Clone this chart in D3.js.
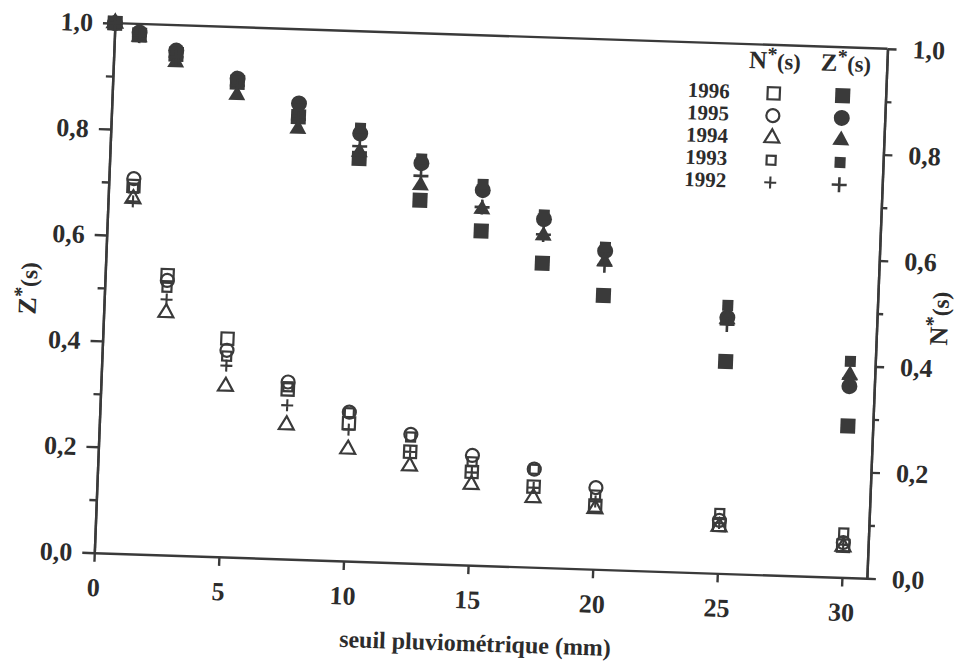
<!DOCTYPE html>
<html>
<head>
<meta charset="utf-8">
<script src="https://cdn.jsdelivr.net/npm/d3@7"></script>
<style>
  html, body { margin: 0; padding: 0; background: #fff; }
  svg { display: block; }
</style>
</head>
<body>
<svg id="chart" width="969" height="661"></svg>
<script>
// Rain threshold s (mm)
const thresholds = [0, 1, 2.5, 5, 7.5, 10, 12.5, 15, 17.5, 20, 25, 30];
const years = ["1996", "1995", "1994", "1993", "1992"];

// N*(s): share of rainy days above the threshold
const n1996 = [1.0, 0.694, 0.528, 0.412, 0.320, 0.260, 0.210, 0.176, 0.152, 0.120, 0.091, 0.060];
const n1995 = [1.0, 0.708, 0.518, 0.390, 0.334, 0.281, 0.243, 0.207, 0.185, 0.154, 0.100, 0.066];
const n1994 = [1.0, 0.670, 0.457, 0.322, 0.253, 0.211, 0.183, 0.152, 0.131, 0.114, 0.088, 0.058];
const n1993 = [1.0, 0.690, 0.505, 0.379, 0.325, 0.280, 0.238, 0.195, 0.185, 0.140, 0.113, 0.084];
const n1992 = [1.0, 0.665, 0.482, 0.361, 0.290, 0.248, 0.210, 0.175, 0.150, 0.128, 0.095, 0.062];

// Z*(s): share of rainfall total above the threshold
const z1996 = [1.0, 0.979, 0.945, 0.896, 0.835, 0.760, 0.685, 0.631, 0.574, 0.517, 0.400, 0.286];
const z1995 = [1.0, 0.984, 0.952, 0.903, 0.860, 0.807, 0.755, 0.708, 0.657, 0.601, 0.483, 0.361];
const z1994 = [1.0, 0.975, 0.930, 0.872, 0.812, 0.772, 0.713, 0.672, 0.626, 0.581, 0.480, 0.382];
const z1993 = [1.0, 0.982, 0.950, 0.898, 0.850, 0.817, 0.763, 0.719, 0.665, 0.608, 0.506, 0.408];
const z1992 = [1.0, 0.978, 0.940, 0.890, 0.830, 0.783, 0.731, 0.676, 0.628, 0.574, 0.470, 0.375];

const xTicks = [0, 5, 10, 15, 20, 25, 30];
const yMajor = [0, 0.2, 0.4, 0.6, 0.8, 1.0];
const yMinor = [0.1, 0.3, 0.5, 0.7, 0.9];

const shapes = ["square", "circle", "triangle", "smallsquare", "plus"];
const nSeries = [n1996, n1995, n1994, n1993, n1992];
const zSeries = [z1996, z1995, z1994, z1993, z1992];

const INK = "#3a3a3a";
const TEXT = "#2c2c2c";
const FONT = "'Liberation Serif', 'Times New Roman', serif";

const W = 773, H = 530;
// slightly tilted sheet: affine frame of the plot
const a = 0.99945, b = 0.0331, c = -0.039, d = 0.9992;
const e = 94.3 - c * H, f = 552.7 - d * H;

const svg = d3.select("#chart");
svg.append("rect").attr("width", 969).attr("height", 661).attr("fill", "#fff");

const g = svg.append("g")
  .attr("transform", `matrix(${a},${b},${c},${d},${e},${f})`)
  .style("font-family", FONT)
  .style("font-weight", "bold");

const x = d3.scaleLinear().domain([0, 31]).range([0, W]);
const y = d3.scaleLinear().domain([0, 1]).range([H, 0]);
const fmt = v => d3.format(".1f")(v).replace(".", ",");

function styleAxis(sel, size) {
  sel.selectAll("path, line").attr("stroke", INK).attr("stroke-width", 2.4);
  sel.selectAll("text").attr("fill", TEXT).style("font-size", size + "px")
    .style("font-family", FONT).style("font-weight", "bold");
}

// bottom axis
g.append("g").attr("transform", `translate(0,${H})`)
  .call(d3.axisBottom(x).tickValues(xTicks).tickSize(9).tickPadding(16).tickSizeOuter(0))
  .call(s => styleAxis(s, 26));

// left axis, Z*(s)
g.append("g")
  .call(d3.axisLeft(y).tickValues(yMajor).tickFormat(fmt).tickSize(12).tickPadding(10).tickSizeOuter(0))
  .call(s => styleAxis(s, 26));
g.append("g")
  .call(d3.axisLeft(y).tickValues(yMinor).tickFormat("").tickSize(7).tickSizeOuter(0))
  .call(s => styleAxis(s, 26));

// right axis, N*(s)
g.append("g").attr("transform", `translate(${W},0)`)
  .call(d3.axisRight(y).tickValues(yMajor).tickFormat(fmt).tickSize(9).tickPadding(16).tickSizeOuter(0))
  .call(s => styleAxis(s, 26));
g.append("g").attr("transform", `translate(${W},0)`)
  .call(d3.axisRight(y).tickValues(yMinor).tickFormat("").tickSize(6).tickSizeOuter(0))
  .call(s => styleAxis(s, 26));

// top frame
g.append("line").attr("x1", 0).attr("y1", 0).attr("x2", W).attr("y2", 0)
  .attr("stroke", INK).attr("stroke-width", 2.4);

// marker paths
function markerPath(kind, filled) {
  if (kind === "square") return d3.symbol(d3.symbolSquare, filled ? 225 : 150)();
  if (kind === "circle") return d3.symbol(d3.symbolCircle, filled ? 201 : 133)();
  if (kind === "triangle") return d3.symbol(d3.symbolTriangle, filled ? 125 : 97)();
  if (kind === "smallsquare") return d3.symbol(d3.symbolSquare, filled ? 121 : 81)();
  const h = filled ? 7.5 : 6;
  return `M${-h},0H${h}M0,${-h}V${h}`;
}
function drawMarker(sel, kind, filled) {
  const p = sel.append("path").attr("d", markerPath(kind, filled));
  if (kind === "plus") {
    p.attr("fill", "none").attr("stroke", INK).attr("stroke-width", filled ? 2.6 : 2.1);
  } else if (filled) {
    p.attr("fill", INK).attr("stroke", "none");
  } else {
    p.attr("fill", "none").attr("stroke", INK).attr("stroke-width", 2.2);
  }
  return p;
}

// N*(s) open markers
nSeries.forEach((vals, i) => {
  const grp = g.append("g").attr("class", "n-series");
  vals.forEach((v, j) => {
    const m = grp.append("g").attr("transform", `translate(${x(thresholds[j])},${y(v)})`);
    drawMarker(m, shapes[i], false);
  });
});

// Z*(s) filled markers
zSeries.forEach((vals, i) => {
  const grp = g.append("g").attr("class", "z-series");
  vals.forEach((v, j) => {
    const m = grp.append("g").attr("transform", `translate(${x(thresholds[j])},${y(v)})`);
    drawMarker(m, shapes[i], true);
  });
});

// titles with starred symbols
function starLabel(sel, letter, size) {
  sel.append("tspan").text(letter);
  sel.append("tspan").text("*").attr("dy", -size * 0.32).style("font-size", (size * 0.8) + "px");
  sel.append("tspan").text("(s)").attr("dy", size * 0.32).style("font-size", (size * 0.9) + "px");
}

g.append("text")
  .attr("transform", `translate(384,616)`)
  .attr("text-anchor", "middle").attr("fill", TEXT).style("font-size", "24px")
  .text("seuil pluviométrique (mm)");

g.append("text")
  .attr("transform", `translate(-68,268) rotate(-90)`)
  .attr("text-anchor", "middle").attr("fill", TEXT).style("font-size", "26px")
  .call(s => starLabel(s, "Z", 26));

g.append("text")
  .attr("transform", `translate(844,268) rotate(-90)`)
  .attr("text-anchor", "middle").attr("fill", TEXT).style("font-size", "26px")
  .call(s => starLabel(s, "N", 26));

// legend
const legendOpenX = 661, legendFillX = 730, legendTextX = 617;
const legendY0 = 48.4, legendStep = 22.3;

g.append("text").attr("x", legendOpenX).attr("y", 24)
  .attr("text-anchor", "middle").attr("fill", TEXT).style("font-size", "25px")
  .call(s => starLabel(s, "N", 25));
g.append("text").attr("x", legendFillX + 2).attr("y", 24)
  .attr("text-anchor", "middle").attr("fill", TEXT).style("font-size", "25px")
  .call(s => starLabel(s, "Z", 25));

years.forEach((yr, i) => {
  const ry = legendY0 + legendStep * i;
  g.append("text").attr("x", legendTextX).attr("y", ry - 1).attr("dy", "0.35em")
    .attr("text-anchor", "end").attr("fill", TEXT).style("font-size", "21px").text(yr);
  drawMarker(g.append("g").attr("transform", `translate(${legendOpenX},${ry})`), shapes[i], false);
  drawMarker(g.append("g").attr("transform", `translate(${legendFillX},${ry})`), shapes[i], true);
});
</script>
</body>
</html>
